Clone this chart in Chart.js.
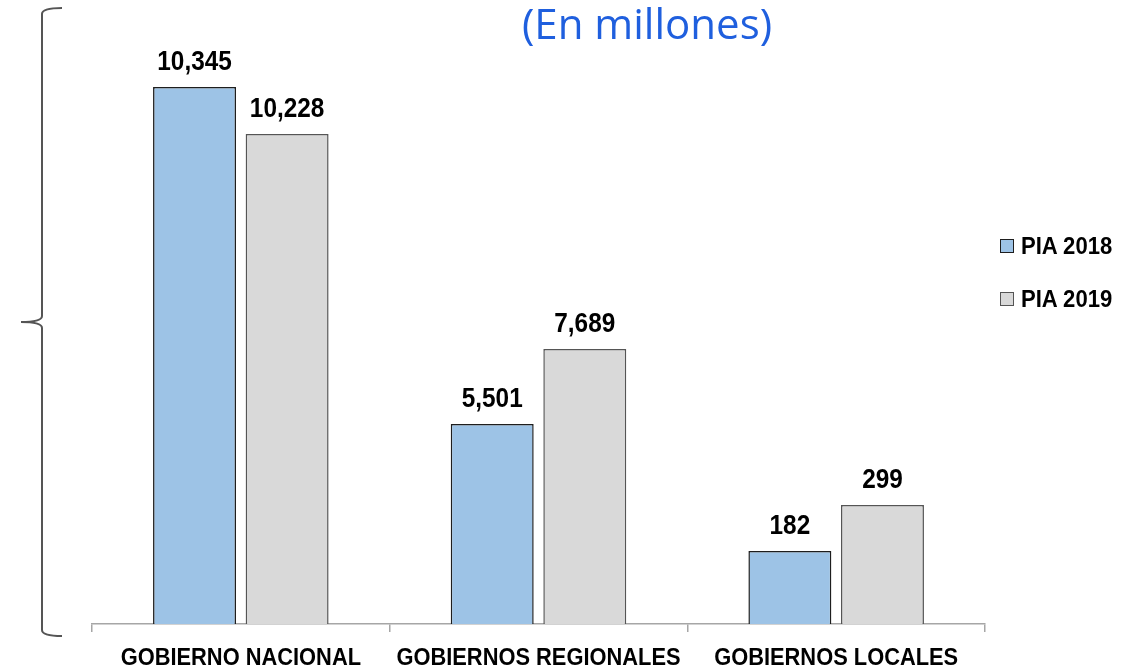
<!DOCTYPE html>
<html>
    <head>
        <meta charset="UTF-8">
        <title>PIA 2018 vs PIA 2019</title>
        <script src="https://cdn.jsdelivr.net/npm/chart.js@4.4.1/dist/chart.umd.min.js"></script>
        <style>
            body { margin: 0; background: #fff; }
            #wrap { position: relative; width: 1135px; height: 671px; }
            #title {
                position: absolute; left: 447px; width: 400px; top: -6px;
                text-align: center; font-family: "Open Sans", Lato, sans-serif;
                font-size: 42px; line-height: normal; color: #1F5FDE;
            }
            #legend {
                position: absolute; left: 1000px; top: 233px;
                font-family: "Liberation Sans", Arial, sans-serif;
                font-weight: bold; font-size: 23px; color: #000;
            }
            .item { height: 53px; display: flex; align-items: flex-start; white-space: nowrap; }
            .box { width: 12px; height: 12px; margin: 6px 7px 0 0; border: 1px solid #333; flex: none; }
            .txt { display: inline-block; transform: scaleX(0.96); transform-origin: left; }
        </style>
        <script type="text/javascript">
            // categories and printed values
            var categories = ['GOBIERNO NACIONAL', 'GOBIERNOS REGIONALES', 'GOBIERNOS LOCALES'];
            var seriesNames = ['PIA 2018', 'PIA 2019'];
            var labels2018 = ['10,345', '5,501', '182'];
            var labels2019 = ['10,228', '7,689', '299'];
            // bar heights as drawn in the picture (the original is not to scale)
            var bars2018 = [10345, 3853, 1406];
            var bars2019 = [9439, 5298, 2292];

            var sans = '"Liberation Sans", Arial, sans-serif';

            var bracePlugin = {
                id: 'brace',
                beforeDraw: function (chart) {
                    var c = chart.ctx;
                    c.save();
                    c.strokeStyle = '#555';
                    c.lineWidth = 2;
                    c.beginPath();
                    c.moveTo(62, 8);
                    c.quadraticCurveTo(42, 8, 42, 14);
                    c.lineTo(42, 316);
                    c.quadraticCurveTo(42, 322, 21, 322);
                    c.quadraticCurveTo(42, 322, 42, 328);
                    c.lineTo(42, 630);
                    c.quadraticCurveTo(42, 636, 62, 636);
                    c.stroke();
                    c.restore();
                }
            };

            // narrow bold text: value labels above the bars and the category names
            var textPlugin = {
                id: 'narrowText',
                afterDraw: function (chart) {
                    var c = chart.ctx;
                    var texts = [labels2018, labels2019];
                    c.save();
                    c.fillStyle = '#000';
                    c.textAlign = 'center';
                    c.textBaseline = 'alphabetic';
                    c.font = 'bold 28px ' + sans;
                    chart.data.datasets.forEach(function (ds, i) {
                        chart.getDatasetMeta(i).data.forEach(function (bar, j) {
                            c.save();
                            c.translate(bar.x, bar.y - 17);
                            c.scale(0.87, 1);
                            c.fillText(texts[i][j], 0, 0);
                            c.restore();
                        });
                    });
                    var xs = chart.scales.x;
                    c.font = 'bold 23.5px ' + sans;
                    chart.data.labels.forEach(function (lab, i) {
                        c.save();
                        c.translate(xs.getPixelForTick(i), 665);
                        c.scale(0.93, 1);
                        c.fillText(lab, 0, 0);
                        c.restore();
                    });
                    c.restore();
                }
            };

            window.onload = function () {
                var ctx = document.getElementById('chart').getContext('2d');
                var chart = new Chart(ctx, {
                    type: 'bar',
                    data: {
                        labels: categories,
                        datasets: [{
                                label: seriesNames[0],
                                data: bars2018,
                                backgroundColor: '#9DC3E6',
                                borderColor: '#1E1E1E',
                                borderWidth: 1.5
                            }, {
                                label: seriesNames[1],
                                data: bars2019,
                                backgroundColor: '#D9D9D9',
                                borderColor: '#555555',
                                borderWidth: 1.5
                            }]
                    },
                    options: {
                        responsive: false,
                        animation: false,
                        categoryPercentage: 0.622,
                        barPercentage: 0.896,
                        layout: {
                            padding: { left: 92, right: 150, top: 60, bottom: 0 }
                        },
                        plugins: {
                            legend: { display: false },
                            tooltip: { enabled: false }
                        },
                        scales: {
                            x: {
                                grid: {
                                    drawOnChartArea: false,
                                    tickLength: 8,
                                    color: '#A6A6A6',
                                    lineWidth: 1.5
                                },
                                border: { color: '#A6A6A6', width: 1.5 },
                                ticks: {
                                    autoSkip: false,
                                    padding: 9,
                                    color: 'rgba(0,0,0,0)',
                                    maxRotation: 0,
                                    font: { family: sans, size: 20, weight: 'bold' }
                                },
                                afterFit: function (s) { s.height = 47; }
                            },
                            y: {
                                display: false,
                                min: 0,
                                max: 10865
                            }
                        }
                    },
                    plugins: [bracePlugin, textPlugin]
                });

                // legend built from the datasets
                var leg = document.getElementById('legend');
                chart.data.datasets.forEach(function (ds) {
                    var item = document.createElement('div');
                    item.className = 'item';
                    item.innerHTML = '<span class="box" style="background:' + ds.backgroundColor +
                            ';border-color:' + ds.borderColor + '"></span><span class="txt">' + ds.label + '</span>';
                    leg.appendChild(item);
                });
            };
        </script>
    </head>
    <body>
        <div id="wrap">
            <canvas id="chart" width="1135" height="671"></canvas>
            <div id="title">(En millones)</div>
            <div id="legend"></div>
        </div>
    </body>
</html>
